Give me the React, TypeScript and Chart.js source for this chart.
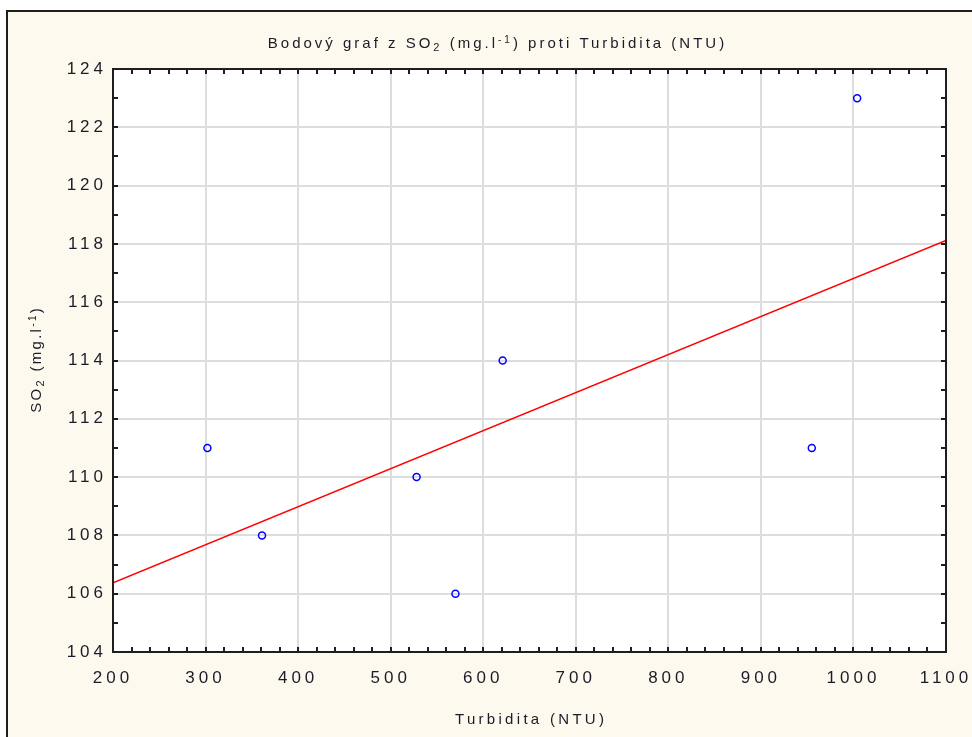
import React, { useEffect, useRef } from "react";
import { Chart, registerables } from "chart.js";

Chart.register(...registerables);

// ---- data ----
const turbidity = [302, 361, 528, 570, 621, 955, 1004];
const so2 = [111, 108, 110, 106, 114, 111, 123];
const fitX = [200, 1100];
const fitY = [106.37, 118.12];

const xMin = 200;
const xMax = 1100;
const xStep = 100;
const xMinorStep = 20;
const yMin = 104;
const yMax = 124;
const yStep = 2;
const yMinorStep = 1;

// rich-text titles: [text, kind] where kind is "n" normal, "sub", "sup"
const chartTitle: [string, string][] = [
  ["Bodový graf z SO", "n"],
  ["2", "sub"],
  [" (mg.l", "n"],
  ["-1", "sup"],
  [") proti Turbidita (NTU)", "n"],
];
const xTitle: [string, string][] = [["Turbidita (NTU)", "n"]];
const yTitle: [string, string][] = [
  ["SO", "n"],
  ["2", "sub"],
  [" (mg.l", "n"],
  ["-1", "sup"],
  [")", "n"],
];

// ---- styles ----
const FONT = '"Liberation Sans", Arial, sans-serif';
const TEXT = "#1c1c28";
const TICK_LS = "4px";
const CREAM = "#FEF9EE";
const AXIS = "#1e1e1e";

function drawRich(
  ctx: CanvasRenderingContext2D,
  segs: [string, string][],
  cx: number,
  baseY: number,
  ls: number
) {
  const sizeOf = (k: string) => (k === "n" ? 15 : k === "sub" ? 11 : 10);
  const dyOf = (k: string) => (k === "n" ? 0 : k === "sub" ? 2.5 : -5);
  ctx.letterSpacing = `${ls}px`;
  let total = 0;
  const widths = segs.map(([t, k]) => {
    ctx.font = `${sizeOf(k)}px ${FONT}`;
    const w = ctx.measureText(t).width;
    total += w;
    return w;
  });
  let x = cx - (total - ls) / 2;
  ctx.textAlign = "left";
  ctx.textBaseline = "alphabetic";
  segs.forEach(([t, k], i) => {
    ctx.font = `${sizeOf(k)}px ${FONT}`;
    ctx.fillText(t, x, baseY + dyOf(k));
    x += widths[i];
  });
}

const decor = {
  id: "decor",
  beforeUpdate(chart: any) {
    chart.ctx.letterSpacing = TICK_LS;
  },
  beforeDraw(chart: any) {
    const { ctx, width, height, chartArea: a } = chart;
    ctx.save();
    ctx.fillStyle = "#ffffff";
    ctx.fillRect(0, 0, width, height);
    ctx.fillStyle = CREAM;
    ctx.fillRect(7, 11, width - 7, height - 11);
    ctx.fillStyle = AXIS;
    ctx.fillRect(6, 10, width - 6, 2);
    ctx.fillRect(6, 10, 2, height - 10);
    ctx.fillStyle = "#ffffff";
    ctx.fillRect(a.left, a.top, a.right - a.left, a.bottom - a.top);
    ctx.restore();
    ctx.letterSpacing = TICK_LS;
  },
  afterDraw(chart: any) {
    const { ctx, chartArea: a } = chart;
    const xs = chart.scales.x;
    const ys = chart.scales.y;
    ctx.save();
    // frame
    ctx.strokeStyle = AXIS;
    ctx.lineWidth = 2;
    ctx.strokeRect(a.left, a.top, a.right - a.left, a.bottom - a.top);
    // inward ticks
    const tl = 5;
    ctx.beginPath();
    for (let v = xMin; v <= xMax + 1e-9; v += xMinorStep) {
      const px = Math.round(xs.getPixelForValue(v));
      ctx.moveTo(px, a.top);
      ctx.lineTo(px, a.top + tl);
      ctx.moveTo(px, a.bottom);
      ctx.lineTo(px, a.bottom - tl);
    }
    for (let v = yMin; v <= yMax + 1e-9; v += yMinorStep) {
      const py = Math.round(ys.getPixelForValue(v));
      ctx.moveTo(a.left, py);
      ctx.lineTo(a.left + tl, py);
      ctx.moveTo(a.right, py);
      ctx.lineTo(a.right - tl, py);
    }
    ctx.stroke();

    // titles
    ctx.fillStyle = TEXT;
    drawRich(ctx, chartTitle, 496, 48, 3);
    drawRich(ctx, xTitle, (a.left + a.right) / 2, 724, 3.3);
    ctx.translate(41, (a.top + a.bottom) / 2);
    ctx.rotate(-Math.PI / 2);
    drawRich(ctx, yTitle, 0, 0, 2.3);
    ctx.restore();
    ctx.letterSpacing = TICK_LS;
  },
};

export default function App() {
  const ref = useRef<HTMLCanvasElement | null>(null);

  useEffect(() => {
    if (!ref.current) return;
    const points = turbidity.map((x, i) => ({ x, y: so2[i] }));
    const fit = fitX.map((x, i) => ({ x, y: fitY[i] }));
    const tickFont = { family: FONT, size: 17 };

    const chart = new Chart(ref.current, {
      type: "scatter",
      data: {
        datasets: [
          {
            type: "line",
            label: "fit",
            data: fit,
            borderColor: "#ff0000",
            borderWidth: 1.5,
            pointRadius: 0,
            fill: false,
            order: 2,
          } as any,
          {
            label: "SO2",
            data: points,
            pointStyle: "circle",
            pointRadius: 3.5,
            pointBorderWidth: 1.5,
            borderColor: "#0000ff",
            backgroundColor: "rgba(0,0,0,0)",
            pointBackgroundColor: "rgba(0,0,0,0)",
            pointBorderColor: "#0000ff",
            order: 1,
          } as any,
        ],
      },
      options: {
        animation: false,
        responsive: false,
        devicePixelRatio: 1,
        layout: { padding: { top: 69, right: 26, bottom: 0, left: 0 } },
        plugins: {
          legend: { display: false },
          tooltip: { enabled: false },
          title: { display: false },
        },
        scales: {
          x: {
            type: "linear",
            min: xMin,
            max: xMax,
            afterFit: (s: any) => {
              s.height = 85;
              s.paddingLeft = 0;
              s.paddingRight = 0;
            },
            ticks: {
              stepSize: xStep,
              autoSkip: false,
              maxRotation: 0,
              padding: 16,
              color: TEXT,
              font: tickFont,
              callback: (v: any) => String(v),
            },
            grid: { color: "#dddddd", lineWidth: 2, drawTicks: false },
            border: { display: false },
          },
          y: {
            type: "linear",
            min: yMin,
            max: yMax,
            afterFit: (s: any) => {
              s.width = 113;
              s.paddingTop = 0;
              s.paddingBottom = 0;
            },
            ticks: {
              stepSize: yStep,
              autoSkip: false,
              padding: 6,
              color: TEXT,
              font: tickFont,
              callback: (v: any) => String(v),
            },
            grid: { color: "#dddddd", lineWidth: 2, drawTicks: false },
            border: { display: false },
          },
        },
      },
      plugins: [decor],
    });
    return () => chart.destroy();
  }, []);

  return (
    <div style={{ position: "absolute", left: 0, top: 0, width: 972, height: 737 }}>
      <canvas ref={ref} width={972} height={737} style={{ display: "block" }} />
    </div>
  );
}
